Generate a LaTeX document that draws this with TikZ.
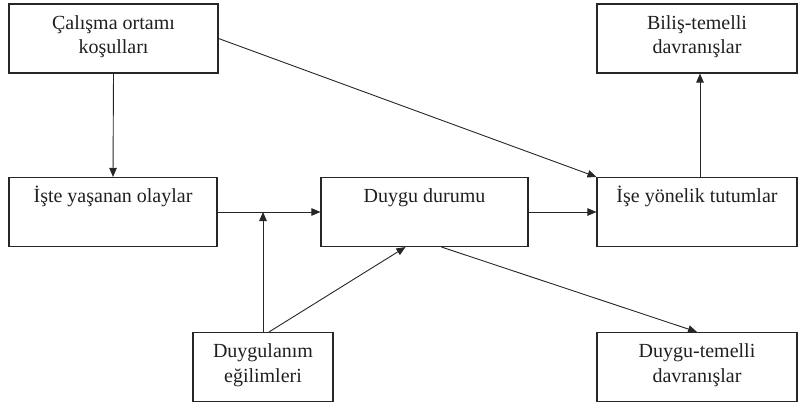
\documentclass[tikz,border=0pt]{standalone}
\usepackage{fontspec}
\setmainfont{Liberation Serif}
\usetikzlibrary{arrows.meta,calc}
\tikzset{
  box/.style={draw=black!85, line width=1.1pt, rectangle, inner sep=0pt},
  txt/.style={anchor=base, align=center, inner sep=0pt,
    font=\fontsize{20}{24.5}\selectfont, text=black!88},
  link/.style={draw=black!85, line width=0.9pt,
    -{Triangle[length=9pt,width=7.5pt]}}
}
\begin{document}
\begin{tikzpicture}[x=1pt,y=-1pt]
\useasboundingbox (0,0) rectangle (799,404);

% boxes
\node[box, minimum width=209pt, minimum height=69pt] (work) at (113.5,38.5) {};
\node[box, minimum width=200pt, minimum height=69pt] (cog)  at (697,38.5) {};
\node[box, minimum width=208pt, minimum height=69pt] (events) at (113,212) {};
\node[box, minimum width=207pt, minimum height=69pt] (mood) at (424.5,212) {};
\node[box, minimum width=200pt, minimum height=69pt] (att)  at (697,212) {};
\node[box, minimum width=140pt, minimum height=69pt] (disp) at (263,367) {};
\node[box, minimum width=200pt, minimum height=69pt] (aff)  at (697,367) {};

% labels (base anchor sits on the last line of a two-line label)
\node[txt] (tw) at ($(work.north)+(0,50.5)$) {Çalışma ortamı\\koşulları};
\node[txt] (tc) at ($(cog.north)+(0,50.5)$) {Biliş-temelli\\davranışlar};
\node[txt] (te) at ($(events.north)+(0,25.5)$) {İşte yaşanan olaylar};
\node[txt] (tm) at ($(mood.north)+(0,25.5)$) {Duygu durumu};
\node[txt] (ta) at ($(att.north)+(0,25.5)$) {İşe yönelik tutumlar};
\node[txt] (td) at ($(disp.north)+(0,50.5)$) {Duygulanım\\eğilimleri};
\node[txt] (tf) at ($(aff.north)+(0,50.5)$) {Duygu-temelli\\davranışlar};

% connectors
\coordinate (j) at (disp.north |- events.east);
\draw[link] (work.south) -- (events.north);
\draw[link] (work.east) -- (att.north west);
\draw[link] (events.east) -- (mood.west);
\draw[link] (disp.north) -- (j);
\draw[link] ([xshift=6pt]disp.north) -- ([xshift=-19pt]mood.south);
\draw[link] (mood.east) -- (att.west);
\draw[link] ([xshift=17pt]mood.south) -- (aff.north);
\draw[link] ([xshift=3pt]att.north) -- ([xshift=3pt]cog.south);
\end{tikzpicture}
\end{document}
